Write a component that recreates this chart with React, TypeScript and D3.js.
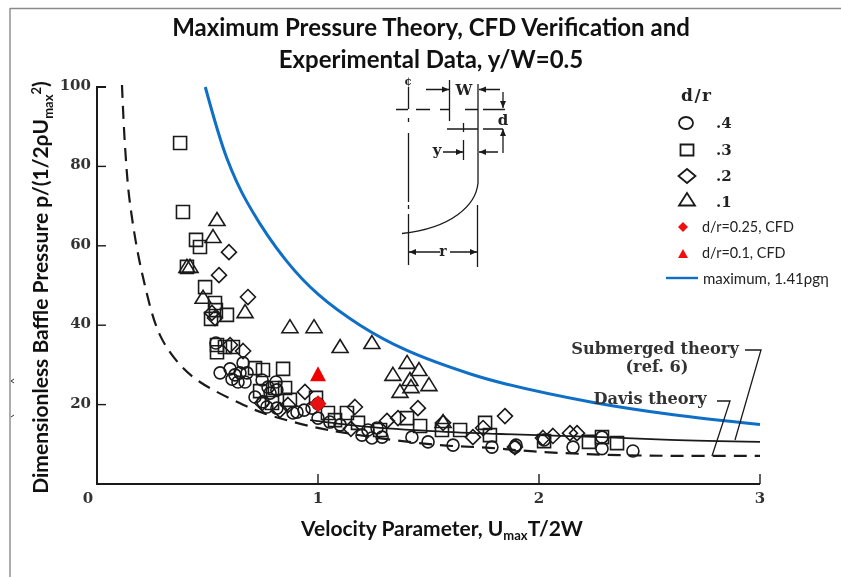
import React from "react";
import * as d3 from "d3";

const circlePts: [number, number][] = [
  [.538,35.5],[.557,28],[.602,29],[.661,30.5],[.624,27.5],[.647,28],[.679,28],[.611,26.4],[.638,25.7],[.670,25.7],
  [.747,26.2],[.774,24.4],[.810,25.7],[.715,21.9],[.751,20.7],[.783,22.9],[.814,23.7],[.769,19.4],[.814,19.1],
  [.887,17.9],[.905,18.1],[.937,18.6],[.973,19.1],[1.0,20.2],[1.0,16.6],[1.054,15.6],[1.10,14.9],[1.199,12.3],
  [1.226,13.6],[1.267,14.1],[1.244,11.6],[1.29,11.8],[1.425,11.8],[1.498,10.6],[1.611,9.8],[1.787,9.3],[1.891,9.3],
  [1.896,9.8],[2.023,11.1],[2.154,9.3],[2.285,8.9],[2.285,11.8],[2.425,8.3],
];
const squarePts: [number, number][] = [
  [.376,85.9],[.389,68.5],[.448,61.5],[.466,59.7],[.407,54.7],[.489,49.6],[.534,45.6],[.538,43.8],[.516,41.6],[.588,42.6],
  [.543,33.2],[.543,35],[.579,34.5],[.615,34.5],[.715,29.2],[.751,28.7],[.842,29],[.851,24.2],[.805,24.2],[.738,23.4],
  [.792,20.4],[.873,21.2],[.991,21.7],[1.045,17.9],[1.131,17.9],[1.077,16.1],[1.181,15.4],[1.281,13.6],[1.403,16.6],
  [1.462,14.6],[1.561,13.6],[1.643,13.6],[1.756,15.4],[1.778,12.3],[2.023,10.8],[2.226,10.6],[2.285,11.8],[2.353,10.3],
];
const diamondPts: [number, number][] = [
  [.597,58.4],[.552,52.6],[.683,47.1],[.520,43.1],[.534,41.8],[.661,33.5],[.602,35],[.941,23.2],[.747,20.4],[.828,18.6],
  [.864,19.9],[1.167,19.4],[1.149,13.9],[1.312,15.9],[1.362,16.6],[1.452,19.1],[1.566,15.4],[1.701,11.8],[1.747,14.1],
  [1.846,17.1],[1.891,9.3],[2.063,12.1],[2.14,12.8],[2.172,12.8],[2.018,11.6],
];
const trianglePts: [number, number][] = [
  [.543,66.5],[.525,62.2],[.407,54.7],[.421,54.7],[.48,46.9],[.67,43.3],[.873,39.5],[.982,39.5],[1.10,34.5],[1.244,35.5],
  [1.339,27.5],[1.403,30.5],[1.457,28.7],[1.416,26.2],[1.371,23.2],[1.421,24.4],[1.502,24.9],[1.566,15.6],
];
const cfdDiamond: [number, number][] = [[1.0, 20.2]];
const cfdTriangle: [number, number][] = [[1.0, 27.5]];

const maxTheory: [number, number][] = [
  [.49,100],[.588,82],[.679,71],[.86,56],[1,47.8],[1.19,40],[1.4,33.7],[1.69,27.7],[1.85,25.2],[2.24,20.6],[2.6,17.5],[3,15],
];
const davisTheory: [number, number][] = [
  [.113,100.5],[.127,84.9],[.149,70.8],[.204,53.1],[.285,37.5],[.376,30],[.466,25.7],[.633,20.7],[.751,17.9],[.977,14.4],
  [1.131,12.8],[1.312,11.3],[1.552,9.8],[1.778,9.1],[1.977,8.2],[2.285,7.4],[2.593,7.1],[3,7.1],
];
const submergedTheory: [number, number][] = [
  [.964,16.1],[1.19,14.6],[1.493,13.4],[1.824,12.6],[2.285,11.8],[2.593,11.1],[3,10.6],
];

const xTicks = [0, 1, 2, 3];
const yTicks = [20, 40, 60, 80, 100];
const legendOpen = [".4", ".3", ".2", ".1"];

const x = d3.scaleLinear().domain([0, 3]).range([97, 760]);
const y = d3.scaleLinear().domain([0, 100]).range([484, 87]);
const line = d3.line<[number, number]>().x(d => x(d[0])).y(d => y(d[1])).curve(d3.curveMonotoneX);
const lineSteep = d3.line<[number, number]>().x(d => x(d[0])).y(d => y(d[1])).curve(d3.curveCatmullRom);

const INK = "#1a1a1a";
const SERIF = "'DejaVu Serif', serif";
const SANS = "Lato, 'Open Sans', sans-serif";

const diamondPath = "M0,-7.5L7.5,0L0,7.5L-7.5,0Z";
const trianglePath = "M0,-7.5L8,5.5L-8,5.5Z";
const squarePath = "M-6.5,-6.5H6.5V6.5H-6.5Z";

function Marks({ pts, shape }: { pts: [number, number][]; shape: "c" | "s" | "d" | "t" }) {
  return (
    <g fill="none" stroke={INK} strokeWidth={1.6}>
      {pts.map((p, i) => {
        const tr = `translate(${x(p[0])},${y(p[1])})`;
        if (shape === "c") return <circle key={i} cx={x(p[0])} cy={y(p[1])} r={6} />;
        return <path key={i} transform={tr} d={shape === "s" ? squarePath : shape === "d" ? diamondPath : trianglePath} />;
      })}
    </g>
  );
}

function Schematic() {
  const s = { stroke: INK, strokeWidth: 1.3, fill: "none" };
  const head = (px: number, py: number, dir: "l" | "r" | "u" | "d") => {
    const d = { r: `M${px},${py}l-7,-3v6z`, l: `M${px},${py}l7,-3v6z`, d: `M${px},${py}l-3,-7h6z`, u: `M${px},${py}l-3,7h6z` }[dir];
    return <path d={d} fill={INK} />;
  };
  return (
    <g>
      <path {...s} d="M408.5,87V109M408.5,118V122M408.5,133V202M408.5,205V209M408.5,214V265" />
      <path {...s} d="M396,109.5h12M416,109.5h14M440,109.5h9M465,109.5h13M483,109.5h22" />
      <path {...s} d="M449.5,80V121M478,84V183C476,205 452,228 402,233.5M477.5,205V267" />
      <path {...s} d="M447,129H478M483,129H503M463.5,123V132M463.5,140V160" />
      <path {...s} d="M426,89.5H449M500,89.5H479M503,92V108M503,153V129M443,152H463M498,152H479M409,252H440M450,252H477" />
      {head(449, 89.5, "r")}{head(479, 89.5, "l")}{head(503, 108, "d")}{head(503, 129, "u")}
      {head(463, 152, "r")}{head(479, 152, "l")}{head(409, 252, "l")}{head(477, 252, "r")}
      <g fontFamily={SERIF} fontWeight="bold" fill="#222" textAnchor="middle">
        <text x={408} y={85} fontSize={11}>¢</text>
        <text x={464} y={95} fontSize={15}>W</text>
        <text x={503} y={125} fontSize={15}>d</text>
        <text x={437} y={155} fontSize={15}>y</text>
        <text x={443} y={256} fontSize={14}>r</text>
      </g>
    </g>
  );
}

export default function App() {
  return (
    <svg width={841} height={577} viewBox="0 0 841 577"
      style={{ position: "absolute", left: 0, top: 0, background: "#fff", filter: "blur(0.45px)" }}>
      <path d="M10,8.5H841M10,8V577" stroke="#8a8a8a" strokeWidth={1.4} fill="none" />
      <path d="M14,379l-3,2l3,2M14,415l-3,2" stroke="#333" strokeWidth={1} fill="none" />

      <g fontFamily={SANS} fontWeight="bold" fontSize={24} fill="#111" textAnchor="middle">
        <text x={431} y={36}>Maximum Pressure Theory, CFD Verification and</text>
        <text x={431} y={68}>Experimental Data, y/W=0.5</text>
      </g>

      <path d={`M${x(0)},${y(100)}H${x(0) + 9}M${x(0)},${y(100) - 1}V${y(0)}H${x(3)}`} stroke={INK} strokeWidth={2} fill="none" />
      {yTicks.map(t => <path key={t} d={`M${x(0)},${y(t)}h9`} stroke={INK} strokeWidth={1.4} />)}
      {xTicks.slice(1).map(t => <path key={t} d={`M${x(t)},${y(0)}v-10`} stroke={INK} strokeWidth={1.4} />)}
      <g fontFamily={SERIF} fontWeight="bold" fontSize={15} fill="#333">
        {yTicks.map(t => <text key={t} x={91} y={y(t) + 3} textAnchor="end">{t}</text>)}
        {xTicks.map(t => <text key={t} x={x(t) - (t === 0 ? 9 : 0)} y={503} textAnchor="middle">{t}</text>)}
      </g>

      <text transform="translate(48,287.5) rotate(-90)" fontFamily={SANS} fontWeight="bold" fontSize={21} fill="#111" textAnchor="middle">
        Dimensionless Baffle Pressure p/(1/2ρU<tspan fontSize={13} dy={5}>max</tspan><tspan fontSize={13} dy={-12}>2</tspan><tspan dy={7}>)</tspan>
      </text>
      <text x={442} y={536} fontFamily={SANS} fontWeight="bold" fontSize={21} fill="#111" textAnchor="middle">
        Velocity Parameter, U<tspan fontSize={13} dy={4}>max</tspan><tspan dy={-4}>T/2W</tspan>
      </text>

      <path d={lineSteep(davisTheory) as string} fill="none" stroke={INK} strokeWidth={2.2} strokeDasharray="13 8" />
      <path d={line(submergedTheory) as string} fill="none" stroke={INK} strokeWidth={1.8} />
      <path d={lineSteep(maxTheory) as string} fill="none" stroke="#0f6fc6" strokeWidth={3} />

      <Marks pts={circlePts} shape="c" />
      <Marks pts={squarePts} shape="s" />
      <Marks pts={diamondPts} shape="d" />
      <Marks pts={trianglePts} shape="t" />

      {cfdTriangle.map((p, i) => <path key={i} transform={`translate(${x(p[0])},${y(p[1])})`} d="M0,-8.5L8,6.5L-8,6.5Z" fill="#f00000" />)}
      {cfdDiamond.map((p, i) => <path key={i} transform={`translate(${x(p[0])},${y(p[1])})`} d="M0,-8.5L8.5,0L0,8.5L-8.5,0Z" fill="#e81010" />)}

      <Schematic />

      <g fontFamily={SERIF} fontWeight="bold" fontSize={17} fill="#222">
        <text x={681} y={101} letterSpacing={1.5}>d/r</text>
        {legendOpen.map((l, i) => <text key={l} x={716} y={[128, 155, 181, 207][i]} fontSize={15}>{l}</text>)}
      </g>
      <g fill="none" stroke={INK} strokeWidth={1.8}>
        <ellipse cx={686} cy={123} rx={7} ry={6} />
        <path transform="translate(687,150)" d="M-6.5,-5.5H6.5V5.5H-6.5Z" />
        <path transform="translate(687,176)" d="M0,-7L8.5,0L0,7L-8.5,0Z" />
        <path transform="translate(687,200)" d="M0,-7L8,5.5L-8,5.5Z" />
      </g>
      <path transform="translate(683,227)" d="M0,-5L5,0L0,5L-5,0Z" fill="#ef1111" />
      <path transform="translate(683,254)" d="M0,-5L5,4L-5,4Z" fill="#ef1111" />
      <path d="M666,278H698" stroke="#0f6fc6" strokeWidth={2.4} />
      <g fontFamily={SANS} fontSize={14.4} fill="#222">
        <text x={702} y={232}>d/r=0.25, CFD</text>
        <text x={702} y={258}>d/r=0.1, CFD</text>
        <text x={703} y={284} fontSize={15}>maximum, 1.41ρgη</text>
      </g>

      <g fontFamily={SERIF} fontWeight="bold" fontSize={16.2} fill="#333" textAnchor="middle">
        <text x={655} y={354}>Submerged theory</text>
        <text x={657} y={372}>(ref. 6)</text>
        <text x={650} y={404}>Davis theory</text>
      </g>
      <path d="M745,350H761L735,440M717,401H730L712,456" fill="none" stroke={INK} strokeWidth={1.3} />
    </svg>
  );
}
